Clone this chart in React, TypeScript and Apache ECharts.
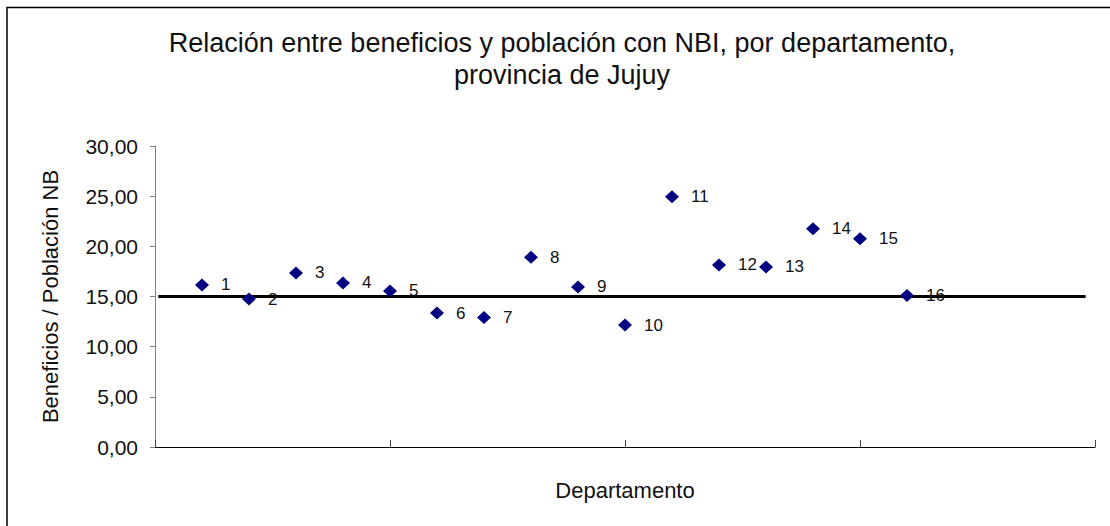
import React, { useEffect, useRef } from "react";
import * as echarts from "echarts";

const departamentos = [1, 2, 3, 4, 5, 6, 7, 8, 9, 10, 11, 12, 13, 14, 15, 16];
const beneficiosPorPoblacion = [16.15, 14.75, 17.35, 16.35, 15.55, 13.35, 12.9, 18.9, 15.95, 12.15, 24.95, 18.15, 17.95, 21.75, 20.75, 15.1];
const referencia = 15;
const referenciaX = [0.07, 19.8];

export default function App() {
  const ref = useRef<HTMLDivElement>(null);
  useEffect(() => {
    const chart = echarts.init(ref.current!, null, { renderer: "svg" });
    const font = "Liberation Sans, Arial, sans-serif";
    chart.setOption({
      animation: false,
      backgroundColor: "#ffffff",
      textStyle: { fontFamily: font },
      title: {
        text: "Relación entre beneficios y población con NBI, por departamento,\nprovincia de Jujuy",
        left: 557,
        top: 22,
        textAlign: "center",
        textStyle: { fontSize: 27, fontWeight: "normal", color: "#111", lineHeight: 32, fontFamily: font },
      },
      graphic: [
        {
          type: "polyline",
          shape: { points: [[7, 1000], [7, 7.5], [1200, 7.5]] },
          style: { stroke: "#000", lineWidth: 1.5, fill: "none" },
          z: 100,
        },
      ],
      grid: { left: 155, right: 15, top: 146, bottom: 79 },
      xAxis: {
        type: "value",
        min: 0,
        max: 20,
        interval: 5,
        name: "Departamento",
        nameLocation: "middle",
        nameGap: 32,
        nameTextStyle: { fontSize: 22, color: "#111", fontFamily: font },
        axisLine: { show: true, lineStyle: { color: "#000", width: 1 } },
        axisTick: { show: true, inside: true, length: 7, lineStyle: { color: "#444" } },
        axisLabel: { show: false },
        splitLine: { show: false },
      },
      yAxis: {
        type: "value",
        min: 0,
        max: 30,
        interval: 5,
        name: "Beneficios / Población NB",
        nameLocation: "middle",
        nameGap: 94,
        nameTextStyle: { fontSize: 22, color: "#111", fontFamily: font },
        axisLine: { show: true, lineStyle: { color: "#808080", width: 1 } },
        axisTick: { show: true, length: 5, lineStyle: { color: "#808080" } },
        axisLabel: {
          fontSize: 21,
          color: "#111",
          margin: 17,
          fontFamily: font,
          formatter: (v: number) => v.toFixed(2).replace(".", ","),
        },
        splitLine: { show: false },
      },
      series: [
        {
          type: "line",
          data: referenciaX.map((x) => [x, referencia]),
          symbol: "none",
          lineStyle: { color: "#000", width: 3 },
          z: 1,
          silent: true,
        },
        {
          type: "scatter",
          data: departamentos.map((d, i) => [d, beneficiosPorPoblacion[i], d]),
          symbol: "diamond",
          symbolSize: [14, 13],
          itemStyle: { color: "#000080", opacity: 1 },
          z: 3,
          label: {
            show: true,
            position: "right",
            distance: 12,
            fontSize: 17,
            color: "#111",
            fontFamily: font,
            formatter: (p: any) => String(p.value[2]),
          },
        },
      ],
    });
    return () => chart.dispose();
  }, []);
  return <div ref={ref} style={{ position: "absolute", left: 0, top: 0, width: 1110, height: 526 }} />;
}
